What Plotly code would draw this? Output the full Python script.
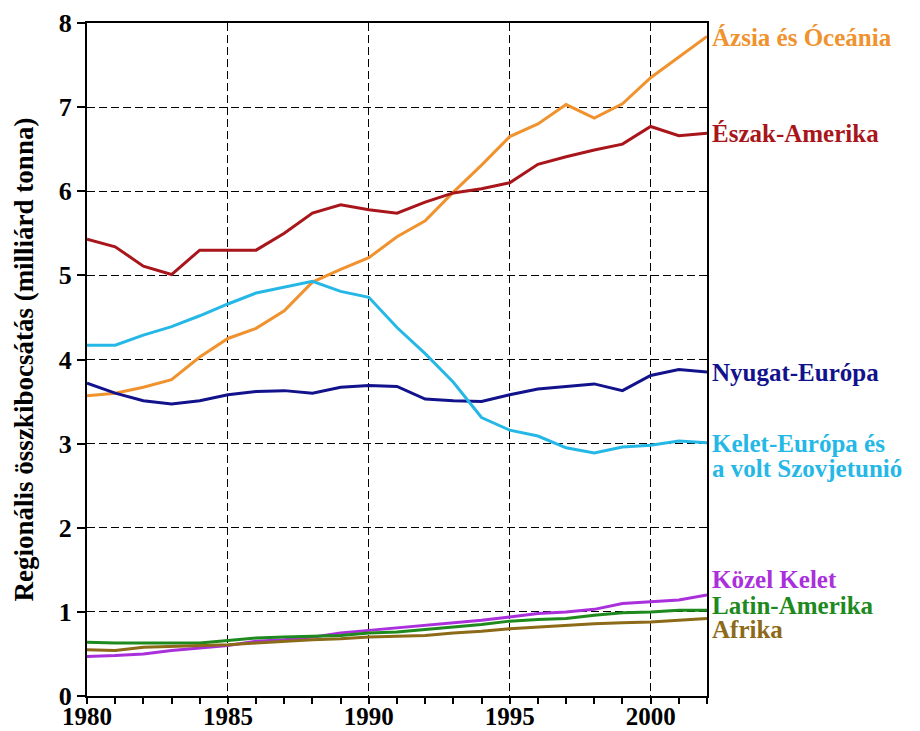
import plotly.graph_objects as go

years = list(range(1980, 2003))

asia = [3.57, 3.60, 3.67, 3.76, 4.03, 4.25, 4.37, 4.58, 4.92, 5.07, 5.21,
        5.46, 5.65, 5.99, 6.31, 6.65, 6.80, 7.03, 6.87, 7.04, 7.35, 7.59, 7.84]
north_america = [5.43, 5.34, 5.11, 5.01, 5.30, 5.30, 5.30, 5.50, 5.74, 5.84, 5.78,
                 5.74, 5.87, 5.98, 6.03, 6.10, 6.32, 6.41, 6.49, 6.56, 6.77, 6.66, 6.69]
west_europe = [3.72, 3.60, 3.51, 3.47, 3.51, 3.58, 3.62, 3.63, 3.60, 3.67, 3.69,
               3.68, 3.53, 3.51, 3.50, 3.58, 3.65, 3.68, 3.71, 3.63, 3.81, 3.88, 3.85]
east_europe = [4.17, 4.17, 4.29, 4.39, 4.52, 4.66, 4.79, 4.86, 4.93, 4.81, 4.74,
               4.38, 4.07, 3.73, 3.31, 3.16, 3.09, 2.95, 2.89, 2.96, 2.98, 3.03, 3.01]
near_east = [0.47, 0.48, 0.50, 0.54, 0.57, 0.60, 0.65, 0.67, 0.70, 0.75, 0.78,
             0.81, 0.84, 0.87, 0.90, 0.94, 0.98, 1.00, 1.03, 1.10, 1.12, 1.14, 1.20]
latin_america = [0.64, 0.63, 0.63, 0.63, 0.63, 0.66, 0.69, 0.70, 0.71, 0.72, 0.75,
                 0.76, 0.79, 0.82, 0.85, 0.89, 0.91, 0.92, 0.96, 0.99, 1.00, 1.02, 1.02]
africa = [0.55, 0.54, 0.58, 0.59, 0.60, 0.61, 0.63, 0.65, 0.67, 0.68, 0.70,
          0.71, 0.72, 0.75, 0.77, 0.80, 0.82, 0.84, 0.86, 0.87, 0.88, 0.90, 0.92]

# (series name, values, colour, label lines, label y positions)
series = [
    ("Ázsia és Óceánia", asia, "#F0922E", ["Ázsia és Óceánia"], [7.83]),
    ("Észak-Amerika", north_america, "#A8161C", ["Észak-Amerika"], [6.69]),
    ("Nyugat-Európa", west_europe, "#12128C", ["Nyugat-Európa"], [3.85]),
    ("Kelet-Európa és a volt Szovjetunió", east_europe, "#25B8E6",
     ["Kelet-Európa és", "a volt Szovjetunió"], [3.00, 2.70]),
    ("Közel Kelet", near_east, "#AA30DC", ["Közel Kelet"], [1.38]),
    ("Latin-Amerika", latin_america, "#1E8A1E", ["Latin-Amerika"], [1.08]),
    ("Afrika", africa, "#8C6A18", ["Afrika"], [0.79]),
]

FONT = "Liberation Serif"
GRID_DASH = "8px,4px"

fig = go.Figure()
for name, vals, color, _, _ in series:
    fig.add_trace(go.Scatter(x=years, y=vals, mode="lines", name=name,
                             line=dict(color=color, width=3), showlegend=False))

for name, vals, color, lines, ys in series:
    for txt, ly in zip(lines, ys):
        fig.add_annotation(x=2002, y=ly, xref="x", yref="y", text="<b>%s</b>" % txt,
                           showarrow=False, xanchor="left", yanchor="middle", xshift=3,
                           align="left", font=dict(family=FONT, size=25, color=color))

fig.update_layout(
    width=912, height=723,
    margin=dict(l=79, r=213, t=15, b=35),
    paper_bgcolor="white", plot_bgcolor="white",
    font=dict(family=FONT, size=22, color="black"),
    xaxis=dict(range=[1980, 2002], tickvals=[1980, 1985, 1990, 1995, 2000],
               ticktext=["<b>1980</b>", "<b>1985</b>", "<b>1990</b>", "<b>1995</b>", "<b>2000</b>"],
               showgrid=True, gridcolor="black", griddash=GRID_DASH, gridwidth=1.3,
               showline=True, linecolor="black", linewidth=2, mirror=True,
               ticks="outside", ticklen=6, tickwidth=1.5, tickcolor="black",
               minor=dict(dtick=1, tick0=1980, ticks="outside", ticklen=6, tickwidth=1.5,
                          tickcolor="black", showgrid=False),
               ticklabelstandoff=-9,
               zeroline=False, automargin=False, tickfont=dict(size=25, family=FONT)),
    yaxis=dict(range=[0, 8], tickvals=list(range(0, 9)),
               ticktext=["<b>%d</b>" % i for i in range(0, 9)],
               showgrid=True, gridcolor="black", griddash=GRID_DASH, gridwidth=1.3,
               showline=True, linecolor="black", linewidth=2, mirror=True,
               ticks="outside", ticklen=8, tickwidth=1.5, tickcolor="black",
               zeroline=False, automargin=False, tickfont=dict(size=26, family=FONT),
               title=dict(text="<b>Regionális összkibocsátás (milliárd tonna)</b>",
                          font=dict(size=27, family=FONT), standoff=17)),
)

fig.write_html("out.html")
